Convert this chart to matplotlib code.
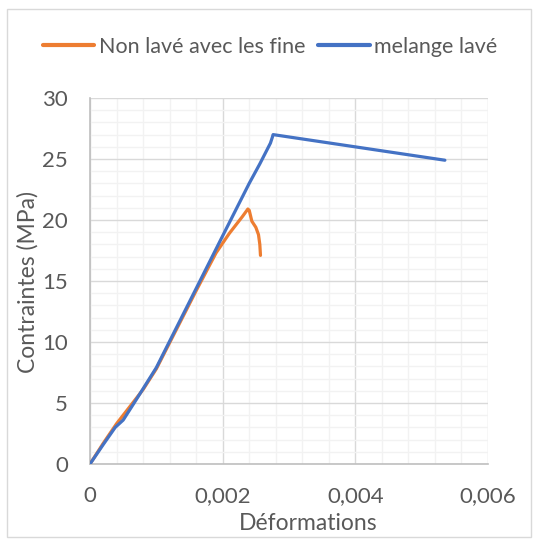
import matplotlib
matplotlib.use("Agg")
import matplotlib.pyplot as plt
from matplotlib.patches import Rectangle
from matplotlib.ticker import MultipleLocator, FixedLocator

# Data
orange_label = "Non lavé avec les fine"
orange_x = [0, 0.0002, 0.0004, 0.0006, 0.0008, 0.001, 0.0013, 0.0016, 0.0019,
            0.0021, 0.0023, 0.00238, 0.0024, 0.00244, 0.0025, 0.00254, 0.00256, 0.00257]
orange_y = [0, 1.7, 3.3, 4.7, 6.1, 7.8, 11.0, 14.2, 17.3,
            18.9, 20.3, 20.9, 20.8, 19.9, 19.4, 18.8, 18.0, 17.1]

blue_label = "melange lavé"
blue_x = [0, 0.0002, 0.00038, 0.0005, 0.0007, 0.001, 0.0015, 0.002, 0.0024,
          0.00256, 0.00272, 0.00275, 0.00276, 0.00535]
blue_y = [0, 1.6, 3.0, 3.6, 5.3, 7.9, 13.3, 18.7, 23.0,
          24.6, 26.3, 26.8, 27.0, 24.9]

x_ticks = [0, 0.002, 0.004, 0.006]
x_ticklabels = ["0", "0,002", "0,004", "0,006"]
y_ticks = [0, 5, 10, 15, 20, 25, 30]
x_title = "Déformations"
y_title = "Contraintes (MPa)"

W, H = 537, 540
plt.rcParams['font.family'] = ['Lato', 'DejaVu Sans']
fig = plt.figure(figsize=(W / 100, H / 100), dpi=100)
fig.patches.append(Rectangle((7 / W, 1 - 537 / H), (531 - 7) / W, (537 - 9) / H,
                             transform=fig.transFigure, fill=False,
                             edgecolor="#D9D9D9", linewidth=1))

ax = fig.add_axes([90 / W, 1 - 464 / H, (488 - 90) / W, (464 - 98) / H])
text_color = "#595959"

ax.plot(orange_x, orange_y, color="#ED7D31", linewidth=2.3, label=orange_label,
        solid_joinstyle="round", solid_capstyle="round", zorder=3)
ax.plot(blue_x, blue_y, color="#4472C4", linewidth=2.3, label=blue_label,
        solid_joinstyle="round", solid_capstyle="round", zorder=3)

ax.set_xlim(0, 0.006)
ax.set_ylim(0, 30)
ax.xaxis.set_major_locator(FixedLocator(x_ticks))
ax.set_xticklabels(x_ticklabels)
ax.yaxis.set_major_locator(FixedLocator(y_ticks))
ax.xaxis.set_minor_locator(MultipleLocator(0.0004))
ax.yaxis.set_minor_locator(MultipleLocator(1))

ax.grid(which="minor", color="#F2F2F2", linewidth=1, zorder=0)
ax.grid(which="major", color="#D9D9D9", linewidth=1, zorder=1)
ax.set_axisbelow(True)

for s in ["top", "right"]:
    ax.spines[s].set_visible(False)
for s in ["left", "bottom"]:
    ax.spines[s].set_color("#BFBFBF")
    ax.spines[s].set_linewidth(1.2)

ax.tick_params(which="both", length=0)
ax.tick_params(axis="x", pad=16, labelsize=16, labelcolor=text_color)
ax.tick_params(axis="y", pad=16, labelsize=16, labelcolor=text_color)

fig.text(308 / W, 1 - 523 / H, x_title, ha="center", va="center",
         fontsize=16.5, color=text_color)
fig.text(28 / W, 1 - 282 / H, y_title, ha="center", va="center",
         rotation=90, fontsize=16.5, color=text_color)

leg = fig.legend(loc="center", bbox_to_anchor=(270 / W, 1 - 47 / H), ncol=2,
                 frameon=False, fontsize=15.5, handlelength=2.4,
                 handletextpad=0.2, columnspacing=0.6, labelcolor=text_color)
for l in leg.get_lines():
    l.set_linewidth(3)

fig.savefig("out.png", dpi=100)
